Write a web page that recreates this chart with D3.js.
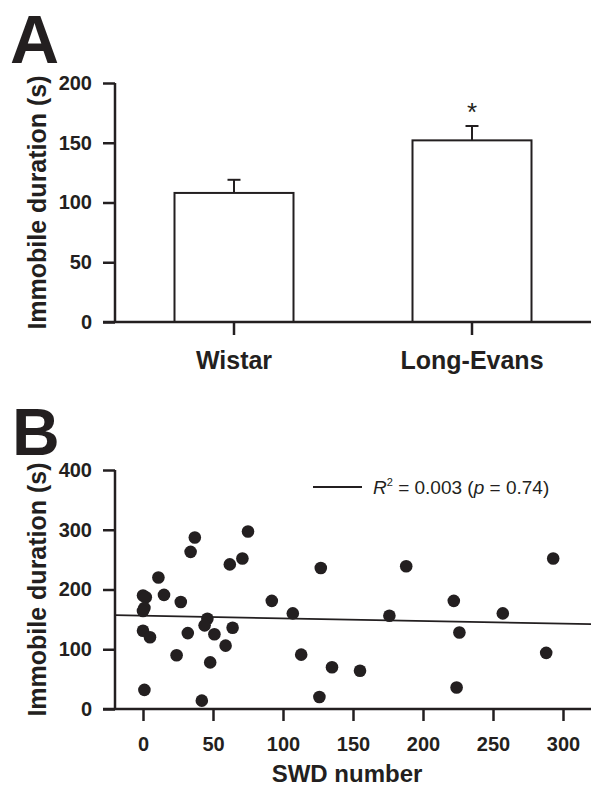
<!DOCTYPE html>
<html><head><meta charset="utf-8">
<script src="https://cdn.jsdelivr.net/npm/d3@7"></script>
<style>
html,body{margin:0;padding:0;background:#fff;}
svg{display:block;font-family:'Liberation Sans',Arial,sans-serif;}
</style></head>
<body>
<svg id="chart" width="591" height="787"></svg>
<script>
// ---------- DATA ----------
// Panel A: bar chart
const groups = ["Wistar", "Long-Evans"];
const means = [108, 152];
const sems = [11, 12];
const significant = [false, true];
const barTicks = [0, 50, 100, 150, 200];

// Panel B: scatter (SWD number vs immobile duration)
const swdNumber = [75, 37, 34, 71, 62, 11, 0, 2, 15, 27, 92, 1, 0, 107, 46, 44, 0, 5, 32, 51, 64, 59, 24, 48, 1, 42,
  127, 188, 293, 222, 176, 257, 226, 113, 288, 135, 155, 224, 126];
const immobile = [297, 287, 263, 252, 242, 220, 190, 187, 191, 179, 181, 169, 164, 160, 151, 140, 131, 120, 127, 125, 136, 106, 90, 78, 32, 14,
  236, 239, 252, 181, 156, 160, 128, 91, 94, 70, 64, 36, 20];
const fitX = [-20, 320];
const fitY = [157, 142];
const scatterXTicks = [0, 50, 100, 150, 200, 250, 300];
const scatterYTicks = [0, 100, 200, 300, 400];
const legendText = {r2: "0.003", p: "0.74"};

// ---------- STYLE ----------
const ink = "#231f20";
const svg = d3.select("#chart");

// ---------- PANEL A ----------
const yA = d3.scaleLinear().domain([0, 200]).range([322, 83]);
const xA = d3.scaleBand().domain(groups).range([115, 591]).paddingInner(0.5).paddingOuter(0.25);

svg.append("text").attr("x", 10).attr("y", 63).attr("font-size", 68).attr("font-weight", "bold")
  .attr("fill", ink).text("A");

const gA = svg.append("g");
// bars
gA.selectAll("rect.bar").data(groups).join("rect").attr("class", "bar")
  .attr("x", d => xA(d)).attr("width", xA.bandwidth())
  .attr("y", (d, i) => yA(means[i])).attr("height", (d, i) => yA(0) - yA(means[i]))
  .attr("fill", "#fff").attr("stroke", ink).attr("stroke-width", 2);
// error bars (upper only)
gA.selectAll("line.err").data(groups).join("line").attr("class", "err")
  .attr("x1", d => xA(d) + xA.bandwidth() / 2).attr("x2", d => xA(d) + xA.bandwidth() / 2)
  .attr("y1", (d, i) => yA(means[i])).attr("y2", (d, i) => yA(means[i] + sems[i]))
  .attr("stroke", ink).attr("stroke-width", 2);
gA.selectAll("line.cap").data(groups).join("line").attr("class", "cap")
  .attr("x1", d => xA(d) + xA.bandwidth() / 2 - 6.5).attr("x2", d => xA(d) + xA.bandwidth() / 2 + 6.5)
  .attr("y1", (d, i) => yA(means[i] + sems[i])).attr("y2", (d, i) => yA(means[i] + sems[i]))
  .attr("stroke", ink).attr("stroke-width", 2);
// significance
gA.selectAll("text.sig").data(groups.filter((d, i) => significant[i])).join("text").attr("class", "sig")
  .attr("x", d => xA(d) + xA.bandwidth() / 2)
  .attr("y", d => yA(means[groups.indexOf(d)] + sems[groups.indexOf(d)]) - 5)
  .attr("text-anchor", "middle").attr("font-size", 26).attr("fill", ink).text("*");

// axes
const axYA = gA.append("g").attr("transform", "translate(115,0)")
  .call(d3.axisLeft(yA).tickValues(barTicks).tickSize(12).tickPadding(11).tickSizeOuter(0));
const axXA = gA.append("g").attr("transform", "translate(0,322)")
  .call(d3.axisBottom(xA).tickSize(13).tickPadding(16).tickSizeOuter(0));
[axYA, axXA].forEach(g => {
  g.select(".domain").remove();
  g.selectAll(".tick line").attr("stroke", ink).attr("stroke-width", 2.5);
  g.selectAll(".tick text").attr("fill", ink).attr("font-weight", "bold")
    .attr("font-family", "'Liberation Sans',Arial,sans-serif");
});
axYA.selectAll(".tick text").attr("font-size", 20);
axXA.selectAll(".tick text").attr("font-size", 25);
gA.append("line").attr("x1", 115).attr("x2", 115).attr("y1", yA(200)).attr("y2", yA(0))
  .attr("stroke", ink).attr("stroke-width", 2.5);
gA.append("line").attr("x1", 103).attr("x2", 591).attr("y1", yA(0)).attr("y2", yA(0))
  .attr("stroke", ink).attr("stroke-width", 2.5);
gA.append("text").attr("transform", `translate(46,${(yA(0) + yA(200)) / 2}) rotate(-90)`)
  .attr("text-anchor", "middle").attr("font-size", 25).attr("font-weight", "bold").attr("fill", ink)
  .text("Immobile duration (s)");

// ---------- PANEL B ----------
const xB = d3.scaleLinear().domain([0, 300]).range([143, 563]);
const yB = d3.scaleLinear().domain([0, 400]).range([709, 470]);

svg.append("text").attr("x", 12).attr("y", 455).attr("font-size", 66).attr("font-weight", "bold")
  .attr("fill", ink).text("B");

const gB = svg.append("g");
const axYB = gB.append("g").attr("transform", "translate(115,0)")
  .call(d3.axisLeft(yB).tickValues(scatterYTicks).tickSize(12).tickPadding(11).tickSizeOuter(0));
const axXB = gB.append("g").attr("transform", "translate(0,709)")
  .call(d3.axisBottom(xB).tickValues(scatterXTicks).tickSize(12).tickPadding(16).tickSizeOuter(0));
[axYB, axXB].forEach(g => {
  g.select(".domain").remove();
  g.selectAll(".tick line").attr("stroke", ink).attr("stroke-width", 2.5);
  g.selectAll(".tick text").attr("fill", ink).attr("font-weight", "bold").attr("font-size", 20)
    .attr("font-family", "'Liberation Sans',Arial,sans-serif");
});
gB.append("line").attr("x1", 115).attr("x2", 115).attr("y1", yB(400)).attr("y2", yB(0))
  .attr("stroke", ink).attr("stroke-width", 2.5);
gB.append("line").attr("x1", 103).attr("x2", 591).attr("y1", yB(0)).attr("y2", yB(0))
  .attr("stroke", ink).attr("stroke-width", 2.5);

// regression line
gB.append("line").attr("x1", xB(fitX[0])).attr("x2", xB(fitX[1]))
  .attr("y1", yB(fitY[0])).attr("y2", yB(fitY[1]))
  .attr("stroke", ink).attr("stroke-width", 1.8);

// points
gB.selectAll("circle").data(swdNumber).join("circle")
  .attr("cx", d => xB(d)).attr("cy", (d, i) => yB(immobile[i])).attr("r", 6.3).attr("fill", ink);

// legend
gB.append("line").attr("x1", 313).attr("x2", 362).attr("y1", 487).attr("y2", 487)
  .attr("stroke", ink).attr("stroke-width", 2);
const lt = gB.append("text").attr("x", 373).attr("y", 494).attr("font-size", 19).attr("fill", ink);
lt.append("tspan").attr("font-style", "italic").text("R");
lt.append("tspan").attr("font-size", 11).attr("dy", -8).text("2");
lt.append("tspan").attr("dy", 8).text(` = ${legendText.r2} (`);
lt.append("tspan").attr("font-style", "italic").text("p");
lt.append("tspan").text(` = ${legendText.p})`);

// axis titles
gB.append("text").attr("transform", `translate(46,${(yB(0) + yB(400)) / 2}) rotate(-90)`)
  .attr("text-anchor", "middle").attr("font-size", 25).attr("font-weight", "bold").attr("fill", ink)
  .text("Immobile duration (s)");
gB.append("text").attr("x", (115 + 591) / 2 - 6).attr("y", 782).attr("text-anchor", "middle")
  .attr("font-size", 24).attr("font-weight", "bold").attr("fill", ink).text("SWD number");
</script>
</body></html>
